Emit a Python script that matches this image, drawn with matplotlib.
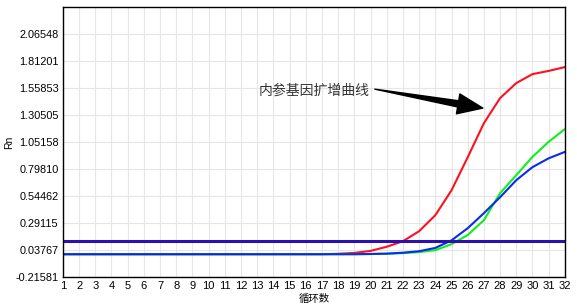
import numpy as np
import matplotlib.pyplot as plt

plt.rcParams['font.family'] = ['Liberation Sans', 'Noto Sans CJK SC', 'DejaVu Sans']

cycles = np.arange(1, 33)
base = [0.0] * 17
red = base + [0.004, 0.012, 0.031, 0.07, 0.122, 0.216, 0.366, 0.60, 0.91, 1.23, 1.465, 1.606, 1.69, 1.72, 1.756]
green = base + [0.0, 0.0, 0.002, 0.005, 0.01, 0.02, 0.038, 0.094, 0.18, 0.32, 0.573, 0.742, 0.914, 1.055, 1.174]
blue = base + [0.0, 0.0, 0.002, 0.005, 0.014, 0.028, 0.059, 0.13, 0.244, 0.385, 0.535, 0.695, 0.817, 0.90, 0.96]
threshold = 0.122

yticks = [-0.21581, 0.03767, 0.29115, 0.54462, 0.79810, 1.05158, 1.30505, 1.55853, 1.81201, 2.06548]
ytick_labels = ["-0.21581", "0.03767", "0.29115", "0.54462", "0.79810", "1.05158", "1.30505", "1.55853", "1.81201", "2.06548"]

# annotation: label, arrow tail, head base, tip (data coords)
label = "内参基因扩增曲线"
label_pos = (13.1, 1.53)
arrow_tail = (20.26, 1.549)
head_base = (25.4, 1.411)
arrow_tip = (26.93, 1.371)

fig, ax = plt.subplots(figsize=(5.77, 3.08), dpi=100)
fig.subplots_adjust(left=0.109, right=0.979, top=0.977, bottom=0.10)

ax.plot(cycles, red, color='#ff1020', lw=1.5)
ax.plot(cycles, green, color='#10ee20', lw=1.5)
ax.plot(cycles, blue, color='#0a2af0', lw=1.5)
ax.axhline(threshold, color='#2c10b0', lw=2.2)

ax.set_xlim(1, 32)
ax.set_ylim(-0.21581, 2.31896)
ax.set_xticks(cycles)
ax.set_xticklabels([str(c) for c in cycles], fontsize=8)
ax.set_yticks(yticks)
ax.set_yticklabels(ytick_labels, fontsize=7.8)
ax.tick_params(length=0, pad=3)
ax.grid(True, color='#e6e6e6', lw=0.8)
ax.set_axisbelow(True)
for s in ['left', 'bottom', 'right', 'top']:
    ax.spines[s].set_linewidth(1.0)

ax.set_ylabel("Rn", fontsize=7.5, labelpad=1)
ax.set_xlabel("循环数", fontsize=7.5, labelpad=2)

ax.text(*label_pos, label, fontsize=10, color='#333333', va='center', ha='left')
# tapered shaft: wide at the head end, thin at the label end
ax.annotate("", xy=arrow_tail, xytext=head_base,
            arrowprops=dict(arrowstyle="wedge,tail_width=0.45", mutation_scale=10,
                            color='black', shrinkA=0, shrinkB=0))
ax.annotate("", xy=arrow_tip, xytext=head_base,
            arrowprops=dict(arrowstyle="simple,head_length=1.8,head_width=1.45,tail_width=0.01",
                            mutation_scale=10, color='black', shrinkA=0, shrinkB=0))

fig.savefig("out.png")
